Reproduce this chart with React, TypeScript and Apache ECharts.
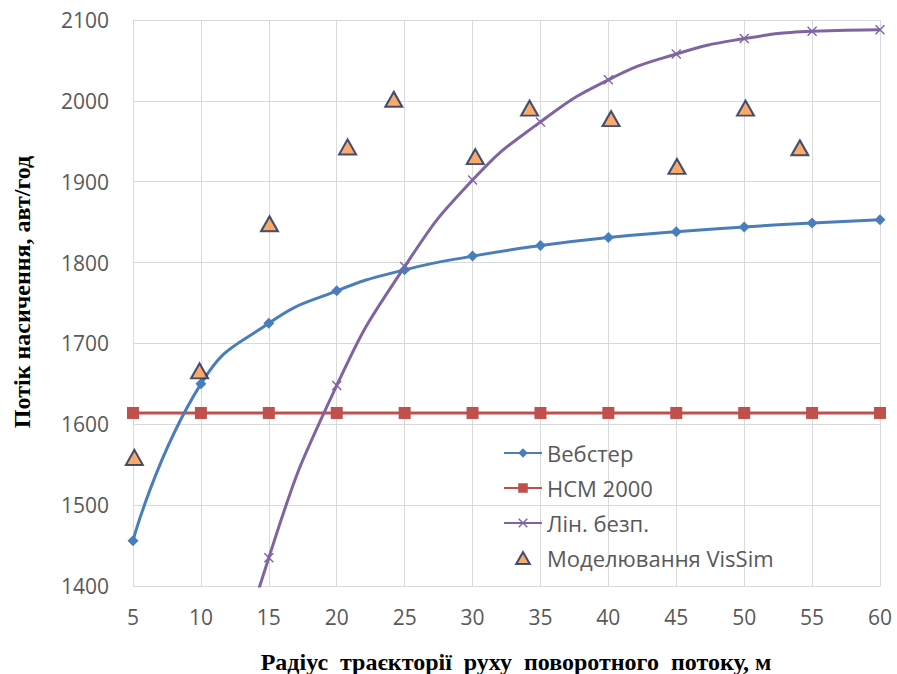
import React, { useEffect, useRef } from "react";
import * as echarts from "echarts";

const xTicks = [5, 10, 15, 20, 25, 30, 35, 40, 45, 50, 55, 60];
const webster = [1456, 1650, 1725, 1765, 1791, 1808, 1821, 1831, 1838, 1844, 1849, 1853];
const hcm = [1614, 1614, 1614, 1614, 1614, 1614, 1614, 1614, 1614, 1614, 1614, 1614];
const linBezp = [680, 1125, 1435, 1648, 1795, 1902, 1974, 2026, 2058, 2077, 2086, 2088];
const vissimX = [5.1, 9.9, 15.05, 20.8, 24.2, 30.2, 34.2, 40.2, 45.05, 50.1, 54.1];
const vissimY = [1559, 1666, 1848, 1943, 2002, 1931, 1991, 1978, 1919, 1991, 1942];

const names = ["Вебстер", "HCM 2000", "Лін. безп.", "Моделювання VisSim"];
const xTitle = "Радіус  траєкторії  руху  поворотного  потоку, м";
const yTitle = "Потік насичення, авт/год";

const X_PATH =
  "path://M0,1 L1,0 L5,4 L9,0 L10,1 L6,5 L10,9 L9,10 L5,6 L1,10 L0,9 L4,5 Z";
const TRI_PATH = "path://M19,0 L27,14 L11,14 Z";

export default function App() {
  const ref = useRef<HTMLDivElement>(null);
  useEffect(() => {
    if (!ref.current) return;
    const chart = echarts.init(ref.current, undefined, { renderer: "svg" });
    const pair = (ys: number[]) => xTicks.map((x, i) => [x, ys[i]]);
    const labelFont = { color: "#595959", fontSize: 21, fontFamily: "Open Sans" };
    chart.setOption({
      animation: false,
      backgroundColor: "#ffffff",
      grid: { left: 133, right: 17, top: 20, bottom: 88, containLabel: false },
      xAxis: {
        type: "value",
        min: 5,
        max: 60,
        interval: 5,
        axisLine: { show: true, lineStyle: { color: "#D9D9D9", width: 1 } },
        axisTick: { show: false },
        splitLine: { show: true, lineStyle: { color: "#D9D9D9", width: 1 } },
        axisLabel: { ...labelFont, margin: 20, formatter: (v: number) => String(v) },
      },
      yAxis: {
        type: "value",
        min: 1400,
        max: 2100,
        interval: 100,
        axisLine: { show: true, lineStyle: { color: "#D9D9D9", width: 1 } },
        axisTick: { show: false },
        splitLine: { show: true, lineStyle: { color: "#D9D9D9", width: 1 } },
        axisLabel: { ...labelFont, margin: 24, formatter: (v: number) => String(v) },
      },
      legend: {
        orient: "vertical",
        left: 498,
        top: 437,
        itemWidth: 38,
        itemHeight: 12,
        itemGap: 13,
        symbolKeepAspect: true,
        textStyle: { ...labelFont, fontSize: 22 },
        data: [
          names[0],
          names[1],
          names[2],
          {
            name: names[3],
            icon: TRI_PATH,
            itemStyle: { color: "#F79646", borderColor: "#142A5C", borderWidth: 2 },
          },
        ],
      },
      graphic: [
        {
          type: "text",
          x: 516,
          y: 662,
          style: {
            text: xTitle,
            fontFamily: "Liberation Serif",
            fontWeight: "bold",
            fontSize: 24,
            fill: "#000",
            textAlign: "center",
            textVerticalAlign: "middle",
          },
        },
        {
          type: "text",
          x: 22,
          y: 292,
          rotation: Math.PI / 2,
          style: {
            text: yTitle,
            fontFamily: "Liberation Serif",
            fontWeight: "bold",
            fontSize: 24,
            fill: "#000",
            textAlign: "center",
            textVerticalAlign: "middle",
          },
        },
      ],
      series: [
        {
          name: names[0],
          type: "line",
          data: pair(webster),
          smooth: 0.5,
          symbol: "diamond",
          symbolSize: 11,
          lineStyle: { color: "#4A7EBB", width: 3 },
          itemStyle: { color: "#4A7EBB" },
          z: 3,
        },
        {
          name: names[1],
          type: "line",
          data: pair(hcm),
          symbol: "rect",
          symbolSize: 12,
          lineStyle: { color: "#C0504D", width: 3 },
          itemStyle: { color: "#C0504D" },
          z: 2,
        },
        {
          name: names[2],
          type: "line",
          data: pair(linBezp),
          smooth: 0.5,
          symbol: X_PATH,
          symbolSize: 10,
          lineStyle: { color: "#8064A2", width: 3 },
          itemStyle: { color: "#8064A2" },
          z: 3,
        },
        {
          name: names[3],
          type: "scatter",
          data: vissimX.map((x, i) => [x, vissimY[i]]),
          symbol: "triangle",
          symbolSize: [17, 15],
          itemStyle: { color: "#F79646", borderColor: "#142A5C", borderWidth: 2 },
          z: 4,
        },
      ],
    });
    return () => chart.dispose();
  }, []);
  return <div ref={ref} style={{ width: 897, height: 674, position: "absolute", left: 0, top: 0 }} />;
}
